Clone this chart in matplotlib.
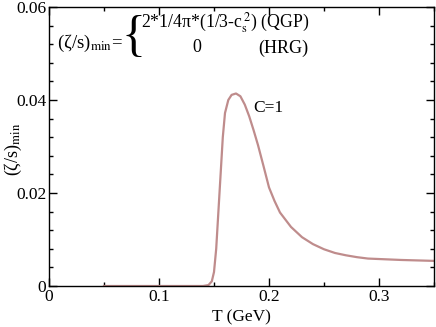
import matplotlib

matplotlib.use("Agg")
import matplotlib.pyplot as plt
from matplotlib.ticker import MultipleLocator, FuncFormatter

plt.rcParams["font.family"] = ["Liberation Serif", "DejaVu Serif"]
plt.rcParams["mathtext.fontset"] = "stix"

# curve, C=1
T_GEV = [0.05, 0.10, 0.140, 0.145, 0.148, 0.150, 0.152, 0.154, 0.156, 0.158,
         0.160, 0.163, 0.166, 0.170, 0.174, 0.178, 0.182, 0.186, 0.190, 0.195,
         0.200, 0.205, 0.210, 0.220, 0.230, 0.240, 0.250, 0.260, 0.270, 0.280,
         0.290, 0.300, 0.320, 0.350]
ZETA_S = [0.0, 0.0, 0.0, 0.0002, 0.001, 0.003, 0.008, 0.016, 0.024, 0.032,
          0.0372, 0.0400, 0.0411, 0.0414, 0.0408, 0.0390, 0.0365, 0.0335, 0.0303, 0.0258,
          0.0212, 0.0183, 0.0158, 0.0127, 0.0105, 0.0090, 0.0079, 0.0071, 0.0066, 0.0062,
          0.0059, 0.0058, 0.0056, 0.0054]
CURVE_COLOR = "#bf8c8c"

W, H = 436, 327
fig = plt.figure(figsize=(W / 100, H / 100), dpi=100)
ax = fig.add_axes([49 / W, 1 - 286 / H, (434 - 49) / W, (286 - 7) / H])

ax.plot(T_GEV, ZETA_S, color=CURVE_COLOR, lw=1.6)

ax.set_xlim(0, 0.35)
ax.set_ylim(0, 0.06)
ax.xaxis.set_major_locator(MultipleLocator(0.1))
ax.xaxis.set_minor_locator(MultipleLocator(0.05))
ax.yaxis.set_major_locator(MultipleLocator(0.02))
ax.yaxis.set_minor_locator(MultipleLocator(0.004))
fmt = FuncFormatter(lambda v, _: "0" if abs(v) < 1e-12 else f"{v:g}")
ax.xaxis.set_major_formatter(fmt)
ax.yaxis.set_major_formatter(fmt)
ax.tick_params(which="both", direction="in", top=True, right=True, labelsize=12.5)
ax.tick_params(which="major", length=5.5, width=1, pad=2)
ax.tick_params(which="minor", length=3, width=1)
for sp in ax.spines.values():
    sp.set_linewidth(1.0)

ax.set_xlabel("T (GeV)", fontsize=12.5, labelpad=3)
ax.set_ylabel(r"(ζ/s)$_{\rm min}$", fontsize=13)
ax.yaxis.set_label_coords((24 - 49) / 385, (286 - 149) / 279)


def ftext(x, y, s, **kw):
    fig.text(x / W, 1 - y / H, s, **kw)


ftext(57, 43, r"(ζ/s)$_{\rm min}$=", fontsize=13.5, va="center", ha="left")
ftext(121, 38, "{", fontsize=36, va="center", ha="left")
ftext(141, 23, r"2*1/4π*(1/3-c$_{\rm s}^{\,2}$) (QGP)", fontsize=12.8, va="center", ha="left")
ftext(197, 48, "0", fontsize=13, va="center", ha="center")
ftext(308, 48, "(HRG)", fontsize=13, va="center", ha="right")
ftext(253, 108, "C=1", fontsize=12.5, va="center", ha="left")

fig.savefig("out.png", dpi=100)
